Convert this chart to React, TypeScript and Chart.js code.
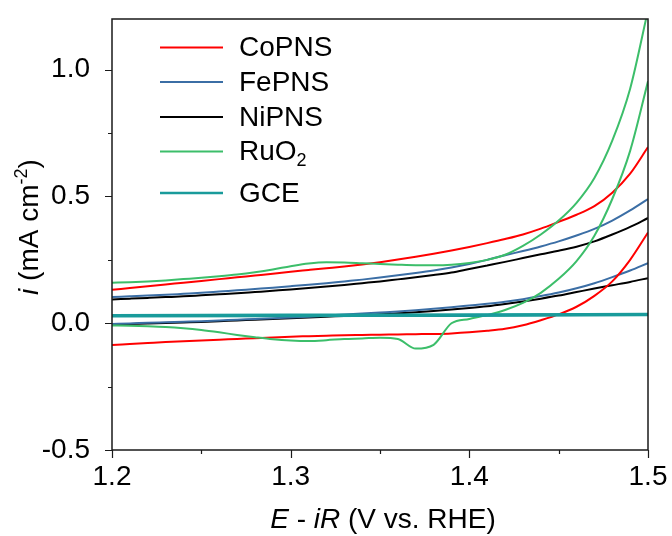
import React, { useEffect, useRef } from "react";
import { Chart, registerables } from "chart.js";

Chart.register(...registerables);

// Potential (V vs. RHE)
const POTENTIAL = [
  1.20, 1.21, 1.22, 1.23, 1.24, 1.25, 1.26, 1.27, 1.28, 1.29,
  1.30, 1.31, 1.32, 1.33, 1.34, 1.35, 1.36, 1.37, 1.38, 1.39,
  1.40, 1.41, 1.42, 1.43, 1.44, 1.45, 1.46, 1.47, 1.48, 1.49, 1.50,
];

// Current density (mA cm-2), forward (upper) and reverse (lower) branches
const COPNS_FWD = [
  0.132, 0.139, 0.146, 0.153, 0.160, 0.167, 0.174, 0.181, 0.188, 0.195,
  0.203, 0.210, 0.217, 0.224, 0.232, 0.241, 0.251, 0.262, 0.274, 0.287,
  0.301, 0.316, 0.332, 0.350, 0.373, 0.400, 0.428, 0.462, 0.515, 0.590, 0.695,
];
const COPNS_REV = [
  -0.086, -0.082, -0.078, -0.074, -0.071, -0.068, -0.065, -0.062, -0.059, -0.056,
  -0.053, -0.051, -0.049, -0.047, -0.046, -0.045, -0.044, -0.043, -0.042, -0.040,
  -0.036, -0.030, -0.022, -0.008, 0.012, 0.035, 0.065, 0.108, 0.165, 0.250, 0.358,
];
const FEPNS_FWD = [
  0.103, 0.106, 0.109, 0.112, 0.116, 0.120, 0.125, 0.130, 0.135, 0.140,
  0.146, 0.152, 0.158, 0.165, 0.172, 0.180, 0.189, 0.198, 0.208, 0.220,
  0.234, 0.250, 0.268, 0.285, 0.303, 0.323, 0.346, 0.372, 0.405, 0.445, 0.490,
];
const FEPNS_REV = [
  -0.003, -0.001, 0.002, 0.004, 0.006, 0.008, 0.011, 0.014, 0.017, 0.020,
  0.023, 0.026, 0.030, 0.034, 0.038, 0.042, 0.046, 0.051, 0.057, 0.063,
  0.070, 0.077, 0.085, 0.095, 0.107, 0.121, 0.138, 0.158, 0.182, 0.208, 0.237,
];
const NIPNS_FWD = [
  0.094, 0.097, 0.100, 0.103, 0.106, 0.110, 0.114, 0.118, 0.123, 0.128,
  0.133, 0.139, 0.145, 0.151, 0.158, 0.165, 0.173, 0.181, 0.190, 0.200,
  0.214, 0.228, 0.242, 0.257, 0.272, 0.286, 0.302, 0.323, 0.350, 0.380, 0.415,
];
const NIPNS_REV = [
  -0.005, -0.003, -0.001, 0.001, 0.003, 0.005, 0.008, 0.011, 0.014, 0.017,
  0.020, 0.023, 0.026, 0.029, 0.032, 0.035, 0.039, 0.043, 0.048, 0.054,
  0.060, 0.067, 0.076, 0.086, 0.097, 0.109, 0.123, 0.137, 0.150, 0.163, 0.178,
];
const RUO2_FWD = [
  0.160, 0.162, 0.165, 0.169, 0.174, 0.179, 0.185, 0.192, 0.201, 0.212,
  0.225, 0.236, 0.241, 0.240, 0.237, 0.234, 0.231, 0.229, 0.229, 0.231,
  0.238, 0.250, 0.270, 0.305, 0.350, 0.405, 0.475, 0.573, 0.720, 0.925, 1.235,
];
const RUO2_REV = [
  -0.009, -0.010, -0.012, -0.015, -0.020, -0.027, -0.036, -0.046, -0.055, -0.063,
  -0.068, -0.070, -0.067, -0.062, -0.060, -0.057, -0.062, -0.100, -0.085, 0.000,
  0.017, 0.032, 0.052, 0.080, 0.120, 0.175, 0.245, 0.345, 0.490, 0.680, 0.954,
];
const GCE_POTENTIAL = [1.2, 1.3, 1.4, 1.5];
const GCE_FWD = [0.031, 0.032, 0.033, 0.035];
const GCE_REV = [0.029, 0.030, 0.031, 0.033];

const SERIES_NAMES = ["CoPNS", "FePNS", "NiPNS", "RuO2", "GCE"];
const SERIES_COLORS = ["#ff0000", "#3b6ea5", "#000000", "#3cbe6a", "#199b9b"];

const X_TICKS = [1.2, 1.3, 1.4, 1.5];
const X_MINOR = [1.25, 1.35, 1.45];
const Y_TICKS = [-0.5, 0.0, 0.5, 1.0];
const Y_MINOR = [-0.25, 0.25, 0.75];

const FAMILY = "'Liberation Sans', Arial, Helvetica, sans-serif";
const FS = 28;

type Run = { t: string; font: string; dy?: number };

function drawRuns(ctx: CanvasRenderingContext2D, runs: Run[], x: number, y: number, align: "left" | "center") {
  let total = 0;
  for (const r of runs) {
    ctx.font = r.font;
    total += ctx.measureText(r.t).width;
  }
  let cx = align === "center" ? x - total / 2 : x;
  ctx.textAlign = "left";
  for (const r of runs) {
    ctx.font = r.font;
    ctx.fillText(r.t, cx, y + (r.dy || 0));
    cx += ctx.measureText(r.t).width;
  }
}

const decorPlugin = {
  id: "decor",
  afterDraw(chart: any) {
    const { ctx, chartArea: a, scales } = chart;
    const xs = scales.x;
    const ys = scales.y;
    ctx.save();
    // frame
    ctx.strokeStyle = "#1a1a1a";
    ctx.lineWidth = 1.5;
    ctx.strokeRect(a.left, a.top, a.right - a.left, a.bottom - a.top);
    // ticks
    ctx.lineWidth = 1.2;
    ctx.beginPath();
    for (const v of X_TICKS) {
      const p = Math.round(xs.getPixelForValue(v)) + 0.5;
      ctx.moveTo(p, a.bottom);
      ctx.lineTo(p, a.bottom + 8);
    }
    for (const v of X_MINOR) {
      const p = Math.round(xs.getPixelForValue(v)) + 0.5;
      ctx.moveTo(p, a.bottom);
      ctx.lineTo(p, a.bottom + 4);
    }
    for (const v of Y_TICKS) {
      const p = Math.round(ys.getPixelForValue(v)) + 0.5;
      ctx.moveTo(a.left, p);
      ctx.lineTo(a.left - 7, p);
    }
    for (const v of Y_MINOR) {
      const p = Math.round(ys.getPixelForValue(v)) + 0.5;
      ctx.moveTo(a.left, p);
      ctx.lineTo(a.left - 4, p);
    }
    ctx.stroke();

    // legend
    const rows = [47.5, 82, 117, 151.5, 193];
    ctx.fillStyle = "#000";
    ctx.textBaseline = "middle";
    SERIES_NAMES.forEach((name, i) => {
      ctx.strokeStyle = SERIES_COLORS[i];
      ctx.lineWidth = i === 4 ? 2.6 : 2.2;
      ctx.beginPath();
      ctx.moveTo(160, rows[i]);
      ctx.lineTo(223, rows[i]);
      ctx.stroke();
      const normal = `${FS}px ${FAMILY}`;
      if (name === "RuO2") {
        drawRuns(ctx, [
          { t: "RuO", font: normal },
          { t: "2", font: `18px ${FAMILY}`, dy: 9 },
        ], 239, rows[i] + 1, "left");
      } else {
        drawRuns(ctx, [{ t: name, font: normal }], 239, rows[i] + 1, "left");
      }
    });

    // axis titles
    ctx.fillStyle = "#000";
    ctx.textBaseline = "alphabetic";
    const it = `italic ${FS}px ${FAMILY}`;
    const nm = `${FS}px ${FAMILY}`;
    drawRuns(ctx, [
      { t: "E", font: it },
      { t: " - ", font: nm },
      { t: "iR", font: it },
      { t: " (V vs. RHE)", font: nm },
    ], (a.left + a.right) / 2 + 3, 528, "center");

    ctx.translate(38, 227);
    ctx.rotate(-Math.PI / 2);
    drawRuns(ctx, [
      { t: "i", font: it },
      { t: " (mA cm", font: nm },
      { t: "-2", font: `18px ${FAMILY}`, dy: -11 },
      { t: ")", font: nm },
    ], 0, 0, "center");
    ctx.restore();
  },
};

export default function App() {
  const ref = useRef<HTMLCanvasElement>(null);
  useEffect(() => {
    const canvas = ref.current;
    if (!canvas) return;
    const mk = (xsArr: number[], ysArr: number[], color: string, width: number, order: number, label: string) => ({
      label,
      data: xsArr.map((x, i) => ({ x, y: ysArr[i] })),
      borderColor: color,
      backgroundColor: color,
      borderWidth: width,
      pointRadius: 0,
      fill: false,
      cubicInterpolationMode: "monotone" as const,
      order,
    });
    const font = { family: FAMILY, size: FS };
    const chart = new Chart(canvas, {
      type: "line",
      data: {
        datasets: [
          mk(POTENTIAL, COPNS_FWD, SERIES_COLORS[0], 2, 2, "CoPNS"),
          mk(POTENTIAL, COPNS_REV, SERIES_COLORS[0], 2, 2, "CoPNS rev"),
          mk(POTENTIAL, FEPNS_FWD, SERIES_COLORS[1], 2, 3, "FePNS"),
          mk(POTENTIAL, FEPNS_REV, SERIES_COLORS[1], 2, 3, "FePNS rev"),
          mk(POTENTIAL, NIPNS_FWD, SERIES_COLORS[2], 2, 4, "NiPNS"),
          mk(POTENTIAL, NIPNS_REV, SERIES_COLORS[2], 2, 4, "NiPNS rev"),
          mk(POTENTIAL, RUO2_FWD, SERIES_COLORS[3], 2, 1, "RuO2"),
          mk(POTENTIAL, RUO2_REV, SERIES_COLORS[3], 2, 1, "RuO2 rev"),
          mk(GCE_POTENTIAL, GCE_FWD, SERIES_COLORS[4], 3, 0, "GCE"),
          mk(GCE_POTENTIAL, GCE_REV, SERIES_COLORS[4], 3, 0, "GCE rev"),
        ],
      },
      options: {
        responsive: false,
        animation: false,
        devicePixelRatio: 1,
        events: [],
        layout: { padding: { top: 19, right: 24, left: 0, bottom: 0 } },
        plugins: { legend: { display: false }, tooltip: { enabled: false } },
        scales: {
          x: {
            type: "linear",
            min: 1.2,
            max: 1.5,
            grid: { display: false },
            border: { display: false },
            afterBuildTicks: (s: any) => {
              s.ticks = X_TICKS.map((v) => ({ value: v }));
            },
            afterFit: (s: any) => {
              s.height = 86;
              s.paddingLeft = 0;
              s.paddingRight = 0;
            },
            ticks: {
              padding: 2,
              font,
              color: "#000",
              maxRotation: 0,
              autoSkip: false,
              callback: (v: any) => Number(v).toFixed(1),
            },
          },
          y: {
            type: "linear",
            min: -0.5,
            max: 1.2,
            grid: { display: false },
            border: { display: false },
            afterBuildTicks: (s: any) => {
              s.ticks = Y_TICKS.map((v) => ({ value: v }));
            },
            afterFit: (s: any) => {
              s.width = 112;
              s.paddingTop = 0;
              s.paddingBottom = 0;
            },
            ticks: {
              padding: 14,
              font,
              color: "#000",
              autoSkip: false,
              callback: (v: any) => Number(v).toFixed(1),
            },
          },
        },
      },
      plugins: [decorPlugin],
    } as any);
    return () => chart.destroy();
  }, []);
  return (
    <div style={{ position: "absolute", left: 0, top: 0, width: 672, height: 536, background: "#fff" }}>
      <canvas ref={ref} width={672} height={536} style={{ display: "block" }} />
    </div>
  );
}
